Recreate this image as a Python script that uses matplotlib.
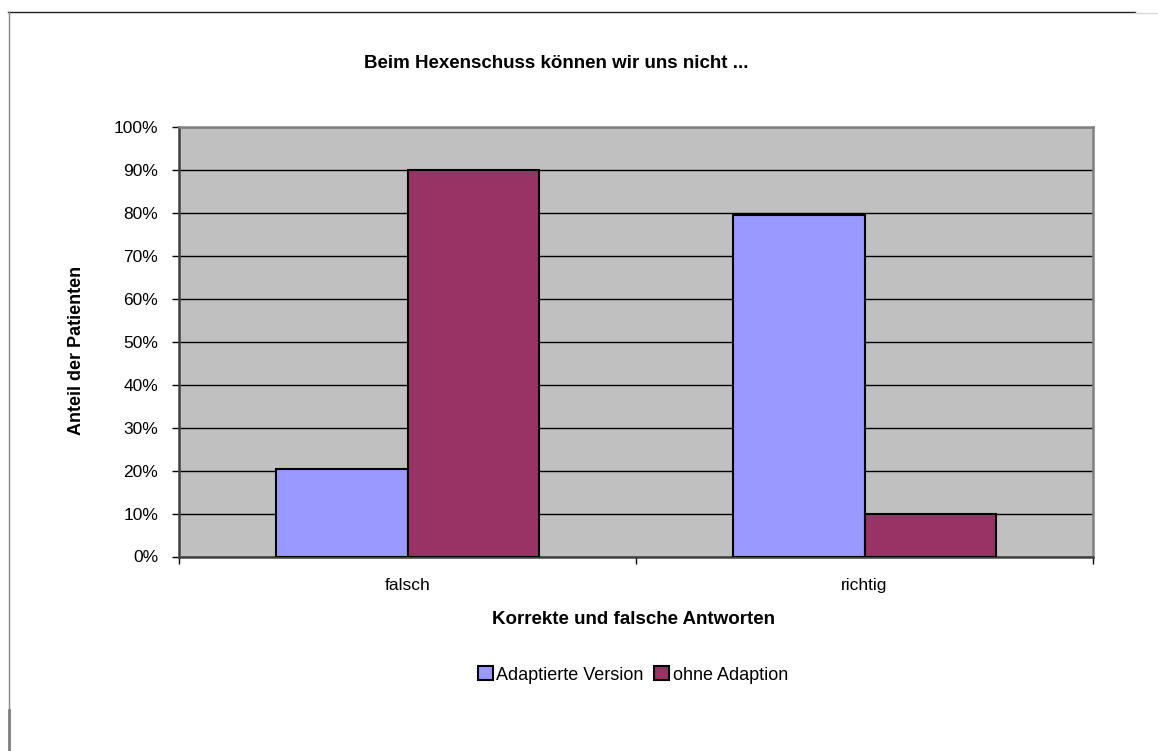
import matplotlib
matplotlib.use("Agg")
import matplotlib.pyplot as plt
import numpy as np
from matplotlib.lines import Line2D
from matplotlib.ticker import PercentFormatter

# Data
categories = ["falsch", "richtig"]
series_names = ["Adaptierte Version", "ohne Adaption"]
adaptiert = [20.4, 79.6]
ohne = [90.0, 9.8]
yticks = np.arange(0, 101, 10)

plt.rcParams['font.family'] = ['Liberation Sans', 'DejaVu Sans']

fig = plt.figure(figsize=(11.58, 7.51), dpi=100)
ax = fig.add_axes([179 / 1158, 1 - 556.5 / 751, 914 / 1158, 429.5 / 751])
ax.set_facecolor("#C0C0C0")

x = np.arange(len(categories))
w = 0.287
ax.bar(x - w / 2, adaptiert, w, color="#9999FF", edgecolor="black", linewidth=1.5,
       label=series_names[0], zorder=3)
ax.bar(x + w / 2, ohne, w, color="#993366", edgecolor="black", linewidth=1.5,
       label=series_names[1], zorder=3)

ax.set_xlim(-0.5, 1.5)
ax.set_ylim(0, 100)
ax.set_yticks(yticks)
ax.yaxis.set_major_formatter(PercentFormatter(decimals=0))
ax.grid(axis="y", color="black", linewidth=1, zorder=1)
ax.set_axisbelow(True)

ax.set_xticks(x)
ax.set_xticklabels(categories)
ax.set_xticks([-0.5, 0.5, 1.5], minor=True)
ax.tick_params(axis="x", which="major", length=0, pad=15.5, labelsize=12.5)
ax.tick_params(axis="x", which="minor", length=5, width=1, color="black")
ax.tick_params(axis="y", length=5, width=1, color="black", pad=10, labelsize=12.5)

for s in ["left", "bottom"]:
    ax.spines[s].set_color("#404040")
    ax.spines[s].set_linewidth(1.8)
for s in ["top", "right"]:
    ax.spines[s].set_color("#808080")
    ax.spines[s].set_linewidth(1.8)

ax.set_xlabel("Korrekte und falsche Antworten", fontsize=13.5, fontweight="bold")
ax.xaxis.label.set_va("center")
ax.xaxis.set_label_coords((634 - 179) / 914, -(620 - 556.5) / 429.5)
ax.set_ylabel("Anteil der Patienten", fontsize=13, fontweight="bold")
ax.yaxis.label.set_va("center")
ax.yaxis.set_label_coords((76 - 179) / 914, (556.5 - 350) / 429.5)

fig.text(556 / 1158, 1 - 63 / 751, "Beim Hexenschuss können wir uns nicht ...",
         ha="center", va="center", fontsize=13.5, fontweight="bold")

fig.legend(loc="center", bbox_to_anchor=(633 / 1158, 1 - 675 / 751), ncol=2,
           frameon=False, handlelength=0.8, handleheight=0.8, handletextpad=0.2,
           columnspacing=0.6, fontsize=13)

# outer chart frame
fig.add_artist(Line2D([8 / 1158, 1135 / 1158], [1 - 12 / 751, 1 - 12 / 751],
                      color="#222222", linewidth=1))
fig.add_artist(Line2D([1135 / 1158, 1], [1 - 13 / 751, 1 - 13 / 751],
                      color="#d8d8d8", linewidth=1))
fig.add_artist(Line2D([8.5 / 1158, 8.5 / 1158], [1 - 12 / 751, 0],
                      color="#888888", linewidth=1))
fig.add_artist(Line2D([9 / 1158, 9 / 1158], [1 - 710 / 751, 0],
                      color="#808080", linewidth=2))

fig.savefig("out.png", dpi=100)
